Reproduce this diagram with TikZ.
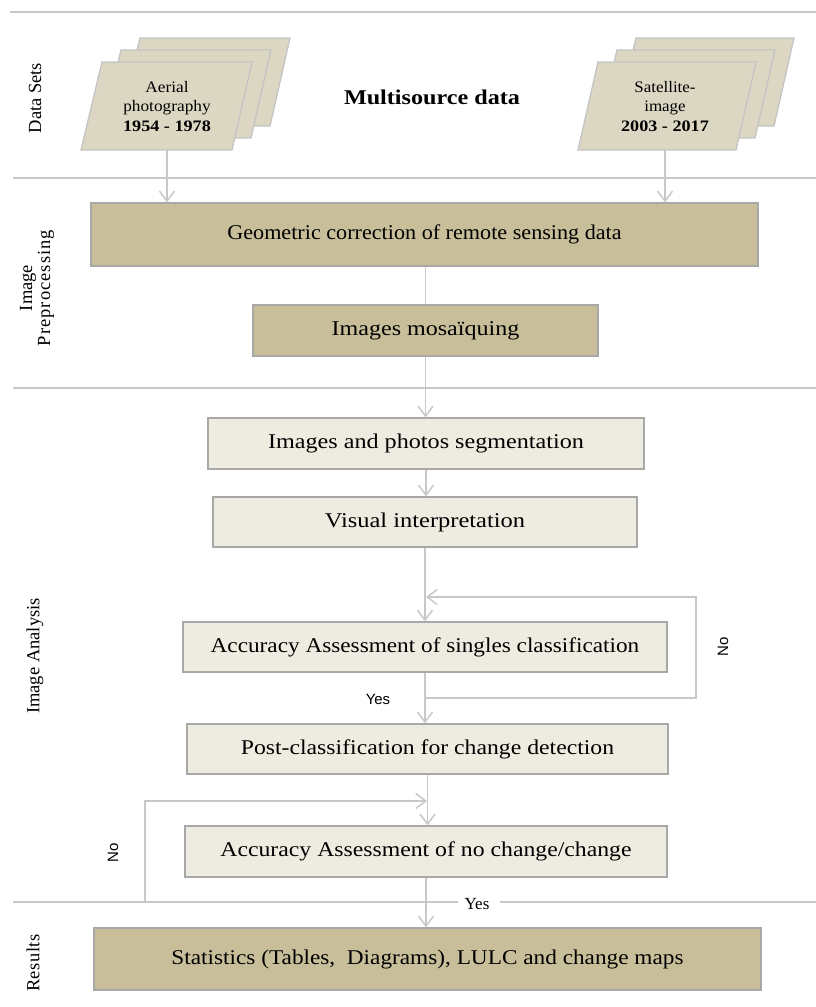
\documentclass[tikz,border=0pt]{standalone}
\usepackage{fontspec}
\usepackage{graphicx}
\setmainfont{Liberation Serif}
\newfontfamily\sansf{Liberation Sans}
\usetikzlibrary{arrows.meta}
\definecolor{khaki}{HTML}{C8BF9A}
\definecolor{lightk}{HTML}{EEEBE0}
\definecolor{parak}{HTML}{DBD7C3}
\definecolor{bord}{HTML}{A8A8A8}
\definecolor{pbord}{HTML}{C4C4C4}
\definecolor{linec}{HTML}{C8C8C8}
\newcommand{\sxx}[2]{\scalebox{#1}[1]{#2}}
\tikzset{
  box/.style={draw=bord, line width=1.3pt, inner sep=0pt, font=\fontsize{21}{24}\selectfont},
  kbox/.style={box, fill=khaki},
  lbox/.style={box, fill=lightk},
  para/.style={draw=pbord, line width=1.3pt, fill=parak},
  conn/.style={draw=linec, line width=1.5pt},
  arr/.style={conn, -{Straight Barb[length=10pt,width=15pt]}},
  sepline/.style={draw=linec, line width=1.5pt},
  side/.style={rotate=90, font=\fontsize{18.5}{18}\selectfont, align=center},
  ptext/.style={align=center, font=\fontsize{16}{19.5}\selectfont},
  nolab/.style={rotate=90, font=\sansf\fontsize{15}{17}\selectfont},
}
\begin{document}
\begin{tikzpicture}[x=1pt,y=-1pt]
\useasboundingbox (0,0) rectangle (816,1007);
% separators
\draw[sepline] (10,12) -- (816,12);
\draw[sepline] (13,178) -- (816,178);
\draw[sepline] (13,388) -- (816,388);
\draw[sepline] (13,902) -- (458,902);
\draw[sepline] (500,902) -- (816,902);
% side labels
\node[side] (lds) at (35,98) {Data Sets};
\node[side] (lip) at (37,288) {Image\\\addfontfeature{LetterSpace=5.5}Preprocessing};
\node[side] (lia) at (35,656) {Image Analysis};
\node[side] (lres) at (33,963) {\addfontfeature{LetterSpace=3}Results};
% aerial stack
\draw[para] (140,38) -- (290,38) -- (270,126) -- (119,126) -- cycle;
\draw[para] (121,50) -- (271,50) -- (251,138) -- (100,138) -- cycle;
\draw[para] (102,62) -- (252,62) -- (232,150) -- (81,150) -- cycle;
\node[ptext] (aer) at (167,108) {\sxx{1.08}{\begin{tabular}{@{}c@{}}Aerial\\photography\\\sxx{1.05}{\textbf{1954 - 1978}}\end{tabular}}};
\coordinate (aerb) at (167,150);
% satellite stack
\draw[para] (636,38) -- (794,38) -- (774,126) -- (616,126) -- cycle;
\draw[para] (617,50) -- (775,50) -- (755,138) -- (597,138) -- cycle;
\draw[para] (598,62) -- (756,62) -- (736,150) -- (578,150) -- cycle;
\node[ptext] (sat) at (665,108) {\sxx{1.06}{\begin{tabular}{@{}c@{}}Satellite-\\image\\\sxx{1.07}{\textbf{2003 - 2017}}\end{tabular}}};
\coordinate (satb) at (665,150);
\node[font=\fontsize{21}{24}\selectfont\bfseries] (multi) at (432,97) {\sxx{1.15}{Multisource data}};
% boxes
\node[kbox, minimum width=667pt, minimum height=63pt] (geo) at (424.5,234.5) {\sxx{1.055}{Geometric correction of remote sensing data}};
\node[kbox, minimum width=345pt, minimum height=51pt] (mos) at (425.5,330.5) {\sxx{1.145}{Images mosaïquing}};
\node[lbox, minimum width=436pt, minimum height=51pt] (seg) at (426,443.5) {\sxx{1.15}{Images and photos segmentation}};
\node[lbox, minimum width=424pt, minimum height=50pt] (vis) at (425,522) {\sxx{1.165}{Visual interpretation}};
\node[lbox, minimum width=484pt, minimum height=50pt] (acc1) at (425,647) {\sxx{1.107}{Accuracy Assessment of singles classification}};
\node[lbox, minimum width=481pt, minimum height=50pt] (post) at (427.5,749) {\sxx{1.129}{Post-classification for change detection}};
\node[lbox, minimum width=482pt, minimum height=51pt] (acc2) at (426,851.5) {\sxx{1.13}{Accuracy Assessment of no change/change}};
\node[kbox, minimum width=667pt, minimum height=62pt] (stat) at (427.5,959) {\sxx{1.108}{Statistics (Tables,\ \ Diagrams), LULC and change maps}};
% connectors
\draw[arr] (aerb) -- (aerb |- geo.north);
\draw[arr] (satb) -- (satb |- geo.north);
\draw[conn] (mos.north |- geo.south) -- (mos.north);
\draw[arr] (mos.south) -- (mos.south |- seg.north);
\draw[arr] (seg.south) -- (seg.south |- vis.north);
\draw[arr] (vis.south) -- (vis.south |- acc1.north);
\draw[arr] (acc1.south) -- (acc1.south |- post.north);
\draw[arr] (post.south) -- (post.south |- acc2.north);
\draw[arr] (acc2.south) -- (acc2.south |- stat.north);
% loop 1
\coordinate (l1a) at (425,698);
\coordinate (l1b) at (696,698);
\coordinate (l1c) at (696,597);
\coordinate (l1d) at (426,597);
\draw[arr] (l1a) -- (l1b) -- (l1c) -- (l1d);
% loop 2
\coordinate (l2a) at (145,902);
\coordinate (l2b) at (145,801);
\coordinate (l2c) at (427,801);
\draw[arr] (l2a) -- (l2b) -- (l2c);
% labels
\node[nolab] (no1) at (723,647) {No};
\node[nolab] (no2) at (113,853) {No};
\node[font=\sansf\fontsize{15}{17}\selectfont] (yes1) at (378,699) {Yes};
\node[font=\fontsize{17}{19}\selectfont] (yes2) at (477,904) {Yes};
\end{tikzpicture}
\end{document}
